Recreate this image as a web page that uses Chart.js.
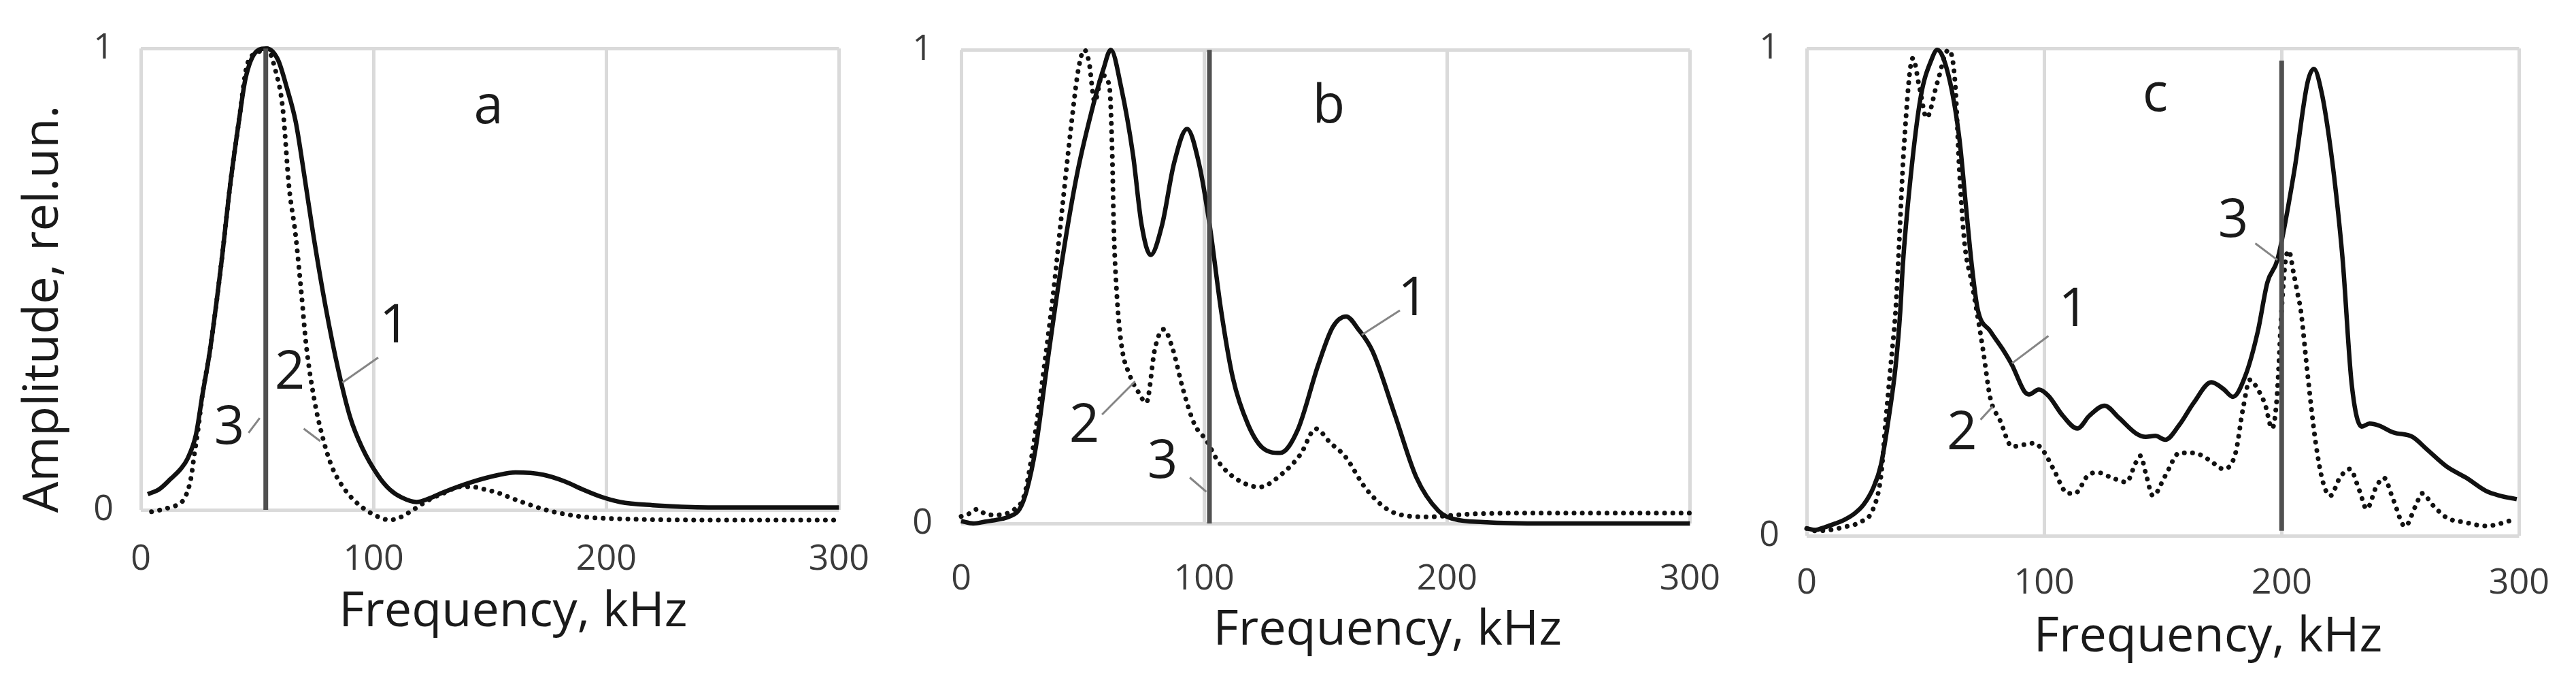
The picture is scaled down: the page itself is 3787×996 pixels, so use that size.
<!DOCTYPE html>
<html>
<head>
<meta charset="utf-8">
<title>Amplitude spectra a, b, c</title>
<script src="https://cdn.jsdelivr.net/npm/chart.js@4.4.1/dist/chart.umd.min.js"></script>
<style>
  html, body { margin: 0; padding: 0; background: #fff; }
  body { width: 3787px; height: 996px; position: relative; overflow: hidden; }
  .panel { position: absolute; top: 0; height: 996px; }
</style>
</head>
<body>
<div class="panel" style="left:0px;width:1320px"><canvas id="chartA"></canvas></div>
<div class="panel" style="left:1280px;width:1300px"><canvas id="chartB"></canvas></div>
<div class="panel" style="left:2540px;width:1247px"><canvas id="chartC"></canvas></div>
<script>
// ---- data (frequency in kHz, amplitude in rel. units) ----
const xTicks = [0, 100, 200, 300];
const yTicks = [0, 1];

// panel a
const aFreq1 = [3, 8, 13, 17, 20, 23.7, 26.5, 29.7, 34.4, 38.5, 42.2, 45, 49.8, 54, 58.9, 62.8, 66.6, 70.4, 74, 79.4, 85, 90, 95, 102, 107, 112, 118.5, 124, 130, 142, 154, 161, 173, 182, 190, 198, 206, 220, 237, 260, 280, 300];
const aAmp1  = [0.034, 0.045, 0.068, 0.088, 0.11, 0.163, 0.25, 0.345, 0.526, 0.708, 0.844, 0.935, 0.994, 1.0, 0.976, 0.914, 0.84, 0.72, 0.60, 0.44, 0.30, 0.20, 0.136, 0.074, 0.044, 0.027, 0.017, 0.025, 0.038, 0.06, 0.076, 0.081, 0.076, 0.062, 0.044, 0.028, 0.017, 0.01, 0.006, 0.005, 0.005, 0.005];
const aFreq2 = [4.6, 11, 16, 19, 21.6, 23, 24.5, 26.5, 29.7, 34.4, 38.5, 42.2, 45.7, 50, 54, 58, 61, 63.7, 66.4, 69, 71, 74.5, 78, 82, 87.7, 94, 102, 107, 112, 117, 124, 131, 137, 142, 148, 154, 160, 166, 172, 178, 190, 210, 240, 270, 300];
const aAmp2  = [-0.004, 0.003, 0.012, 0.027, 0.07, 0.12, 0.17, 0.25, 0.345, 0.526, 0.708, 0.844, 0.965, 0.99, 1.0, 0.95, 0.87, 0.70, 0.60, 0.47, 0.36, 0.24, 0.16, 0.095, 0.044, 0.01, -0.015, -0.022, -0.015, 0.0, 0.022, 0.038, 0.05, 0.05, 0.044, 0.036, 0.024, 0.013, 0.003, -0.005, -0.015, -0.02, -0.022, -0.022, -0.022];

// panel b
const bFreq1 = [0, 5, 10, 15, 20, 24, 27, 30.7, 35.5, 41.7, 47.8, 53.7, 58.6, 61.6, 65.9, 70.7, 74.3, 78, 82.7, 87.6, 93, 97.9, 102.3, 107, 111.9, 118, 124, 131.3, 138.5, 147, 153, 158.5, 163.5, 169.4, 178.5, 187.4, 196.4, 203, 215, 240, 270, 300];
const bAmp1  = [0.005, 0.0, 0.004, 0.008, 0.015, 0.03, 0.07, 0.16, 0.34, 0.56, 0.74, 0.87, 0.96, 1.0, 0.92, 0.78, 0.63, 0.567, 0.63, 0.76, 0.833, 0.76, 0.63, 0.45, 0.306, 0.21, 0.16, 0.149, 0.197, 0.335, 0.415, 0.437, 0.41, 0.363, 0.23, 0.097, 0.027, 0.009, 0.003, 0.0, 0.0, 0.0];
const bFreq2 = [0, 3, 6.5, 10, 14, 18, 22, 26, 29.6, 34.4, 38, 41.7, 45.3, 48.3, 50.7, 52.6, 55, 58, 61, 62.2, 62.8, 64, 65.9, 69.4, 73, 76.2, 79.8, 83.4, 87, 91.3, 96, 101, 105.8, 113, 122.8, 132.4, 139.7, 146, 152, 158, 167, 178.5, 192, 210, 240, 270, 300];
const bAmp2  = [0.015, 0.02, 0.03, 0.02, 0.018, 0.02, 0.03, 0.06, 0.16, 0.34, 0.49, 0.67, 0.84, 0.96, 1.0, 0.975, 0.89, 0.946, 0.924, 0.78, 0.63, 0.49, 0.38, 0.313, 0.277, 0.255, 0.37, 0.41, 0.37, 0.284, 0.21, 0.175, 0.131, 0.095, 0.077, 0.106, 0.146, 0.2, 0.17, 0.142, 0.071, 0.022, 0.014, 0.02, 0.022, 0.022, 0.022];

// panel c
const cFreq1 = [0, 3.6, 8, 12, 16, 20, 24, 28.2, 31.3, 34.4, 37.5, 39.4, 40.5, 43.6, 48, 52.8, 55, 59.7, 64.3, 67, 69.5, 72, 77.3, 82.5, 86.5, 91.7, 93.6, 97.8, 101.8, 107.9, 114, 119, 125.4, 131.5, 138.7, 142.8, 146.8, 151, 157, 163, 170.4, 175.5, 179.5, 184.7, 190, 194, 198.2, 205.3, 210.9, 213.6, 216.9, 220, 222.9, 225.7, 229.5, 233.7, 237, 241, 247, 255, 261, 269.5, 277.7, 286, 292, 299];
const cAmp1  = [0.015, 0.012, 0.018, 0.025, 0.033, 0.045, 0.064, 0.1, 0.146, 0.237, 0.35, 0.46, 0.556, 0.728, 0.9, 0.98, 0.997, 0.945, 0.815, 0.68, 0.556, 0.465, 0.42, 0.383, 0.35, 0.296, 0.29, 0.30, 0.287, 0.246, 0.22, 0.246, 0.267, 0.242, 0.21, 0.203, 0.205, 0.197, 0.228, 0.273, 0.315, 0.301, 0.285, 0.328, 0.42, 0.52, 0.566, 0.748, 0.93, 0.958, 0.908, 0.816, 0.703, 0.566, 0.311, 0.224, 0.23, 0.226, 0.212, 0.203, 0.178, 0.142, 0.119, 0.092, 0.082, 0.075];
const cFreq2 = [0, 4, 10, 16, 22, 28, 31.3, 33.3, 35.4, 37.5, 38.5, 41, 44.7, 47.5, 50.5, 55, 59.7, 62.5, 64.3, 66.5, 69.5, 72, 74.3, 77.3, 81.4, 86.5, 91.7, 95.7, 99.8, 103.9, 110, 113, 118.3, 122.3, 128.5, 134.6, 138.7, 140.6, 142.8, 145.8, 151, 157, 163, 169.4, 175.5, 180.6, 183.7, 186.7, 190, 193, 196, 198, 200, 201.5, 203, 205, 207, 208, 211, 214.3, 217.4, 220.5, 224.5, 228.7, 232.8, 235.8, 239.9, 243, 247, 252, 256.3, 259.3, 263.4, 269.5, 277.7, 286, 298];
const cAmp2  = [0.015, 0.01, 0.012, 0.018, 0.027, 0.055, 0.123, 0.237, 0.35, 0.465, 0.556, 0.80, 0.98, 0.92, 0.858, 0.93, 0.997, 0.93, 0.75, 0.6, 0.52, 0.45, 0.38, 0.283, 0.237, 0.183, 0.187, 0.19, 0.173, 0.137, 0.087, 0.087, 0.123, 0.13, 0.119, 0.11, 0.151, 0.164, 0.128, 0.082, 0.123, 0.17, 0.17, 0.156, 0.137, 0.17, 0.26, 0.32, 0.30, 0.27, 0.22, 0.283, 0.465, 0.56, 0.585, 0.54, 0.49, 0.465, 0.328, 0.192, 0.11, 0.082, 0.119, 0.137, 0.092, 0.055, 0.101, 0.119, 0.074, 0.019, 0.06, 0.087, 0.064, 0.037, 0.027, 0.02, 0.033];

// vertical marker (curve 3) for a, b, c
const markFreq = [53.7, 102.2, 200];
const markLow  = [0, 0, 0.01];
const markHigh = [1.0, 1.0, 0.975];

const xTitle = 'Frequency, kHz';
const yTitle = 'Amplitude, rel.un.';

// ---- layout of each panel (pixels) ----
const frames = [
  { yAxisW: 207, xAxisH: 247, padTop: 50, padRight: 63, yPad: 40, xPad: 42 },
  { yAxisW: 133, xAxisH: 227, padTop: 50, padRight: 61, yPad: 42, xPad: 51 },
  { yAxisW: 116, xAxisH: 209, padTop: 56, padRight: 58, yPad: 40, xPad: 39 }
];

// labels: [text, freq, amp]; leaders: [f1, a1, f2, a2]
const notes = [
  { labels: [['1', 109, 0.395], ['2', 64, 0.295], ['3', 38, 0.176], ['a', 149.4, 0.871]],
    leaders: [[102, 0.33, 86.6, 0.276], [70, 0.176, 77.1, 0.149], [46.3, 0.167, 51.1, 0.199]],
    titleAt: 160, titleBase: 920, yTitle: true },
  { labels: [['1', 186, 0.472], ['2', 50.7, 0.204], ['3', 82.9, 0.128], ['b', 151.3, 0.879]],
    leaders: [[180.6, 0.45, 164.9, 0.398], [58, 0.23, 71.6, 0.30], [94.1, 0.097, 100.9, 0.067]],
    titleAt: 175.5, titleBase: 947, yTitle: false },
  { labels: [['1', 112.4, 0.461], ['2', 65.4, 0.208], ['3', 179.6, 0.645], ['c', 146.8, 0.903]],
    leaders: [[101.8, 0.41, 86.5, 0.354], [73.2, 0.238, 78.3, 0.265], [188.9, 0.60, 198.2, 0.566]],
    titleAt: 169, titleBase: 957, yTitle: false }
];

function pts(fs, vs) {
  return fs.map((f, i) => ({ x: f, y: vs[i] }));
}

const notesPlugin = {
  id: 'notes',
  afterDatasetsDraw(chart, args, opts) {
    const ctx = chart.ctx;
    const xs = chart.scales.x, ys = chart.scales.y;
    ctx.save();
    ctx.strokeStyle = '#858585';
    ctx.lineWidth = 3;
    opts.leaders.forEach(l => {
      ctx.beginPath();
      ctx.moveTo(xs.getPixelForValue(l[0]), ys.getPixelForValue(l[1]));
      ctx.lineTo(xs.getPixelForValue(l[2]), ys.getPixelForValue(l[3]));
      ctx.stroke();
    });
    ctx.fillStyle = '#1a1a1a';
    ctx.textAlign = 'center';
    ctx.textBaseline = 'middle';
    ctx.font = '500 78px "Open Sans"';
    opts.labels.forEach(t => {
      ctx.fillText(t[0], xs.getPixelForValue(t[1]), ys.getPixelForValue(t[2]));
    });
    ctx.textBaseline = 'alphabetic';
    ctx.font = '500 72px "Open Sans"';
    ctx.fillText(xTitle, xs.getPixelForValue(opts.titleAt), opts.titleBase);
    if (opts.yTitle) {
      ctx.translate(85, 454);
      ctx.rotate(-Math.PI / 2);
      ctx.fillText(yTitle, 0, 0);
    }
    ctx.restore();
  }
};

function makePanel(canvasId, k, solid, dotted) {
  const fr = frames[k];
  const tickFont = { family: "'Liberation Sans Narrow', 'Open Sans', sans-serif", size: 52 };
  return new Chart(document.getElementById(canvasId), {
    type: 'line',
    data: {
      datasets: [
        {
          label: '3',
          data: pts([markFreq[k], markFreq[k]], [markLow[k], markHigh[k]]),
          borderColor: '#505050', borderWidth: 7, tension: 0,
          pointRadius: 0, clip: false, order: 0
        },
        {
          label: '1',
          data: solid,
          borderColor: '#111', borderWidth: 6.5,
          cubicInterpolationMode: 'monotone',
          pointRadius: 0, clip: false, order: 1
        },
        {
          label: '2',
          data: dotted,
          borderColor: '#111', borderWidth: 7,
          borderDash: [0.1, 12], borderCapStyle: 'round',
          cubicInterpolationMode: 'monotone',
          pointRadius: 0, clip: false, order: 2
        }
      ]
    },
    options: {
      responsive: true,
      maintainAspectRatio: false,
      devicePixelRatio: 1,
      animation: false,
      layout: { autoPadding: false, padding: { top: fr.padTop, right: fr.padRight, left: 0, bottom: 0 } },
      plugins: {
        legend: { display: false },
        tooltip: { enabled: false },
        notes: notes[k]
      },
      scales: {
        x: {
          type: 'linear', min: 0, max: 300,
          afterBuildTicks: s => { s.ticks = xTicks.map(v => ({ value: v })); },
          afterFit: s => { s.height = fr.xAxisH; },
          grid: { color: '#dadada', lineWidth: 5, drawTicks: false },
          border: { display: false },
          ticks: { color: '#3a3a3a', font: tickFont, padding: fr.xPad, maxRotation: 0 }
        },
        y: {
          type: 'linear', min: 0, max: 1,
          afterBuildTicks: s => { s.ticks = yTicks.map(v => ({ value: v })); },
          afterFit: s => { s.width = fr.yAxisW; },
          grid: { color: '#dadada', lineWidth: 5, drawTicks: false },
          border: { display: false },
          ticks: { color: '#3a3a3a', font: tickFont, padding: fr.yPad }
        }
      }
    },
    plugins: [notesPlugin]
  });
}

makePanel('chartA', 0, pts(aFreq1, aAmp1), pts(aFreq2, aAmp2));
makePanel('chartB', 1, pts(bFreq1, bAmp1), pts(bFreq2, bAmp2));
makePanel('chartC', 2, pts(cFreq1, cAmp1), pts(cFreq2, cAmp2));
</script>
</body>
</html>
